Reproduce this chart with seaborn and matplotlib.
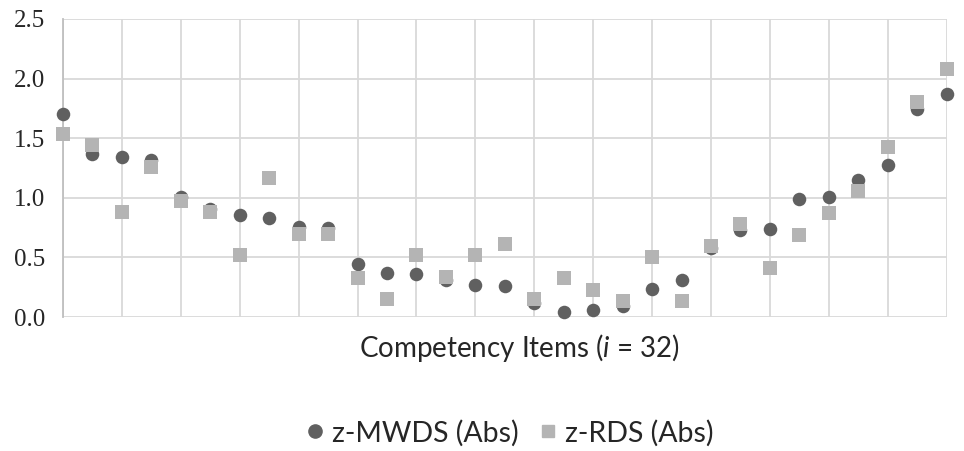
import numpy as np
import pandas as pd
import matplotlib
matplotlib.use("Agg")
import matplotlib.pyplot as plt
import seaborn as sns
from matplotlib.lines import Line2D

# Values (31 plotted items)
items = list(range(1, 32))
z_mwds = [1.70, 1.37, 1.345, 1.315, 1.005, 0.91, 0.86, 0.83, 0.755, 0.745,
          0.445, 0.37, 0.36, 0.31, 0.27, 0.26, 0.12, 0.04, 0.056, 0.09,
          0.237, 0.313, 0.58, 0.73, 0.736, 0.987, 1.01, 1.15, 1.273, 1.745, 1.873]
z_rds = [1.535, 1.44, 0.883, 1.256, 0.976, 0.883, 0.52, 1.163, 0.696, 0.696,
         0.33, 0.148, 0.517, 0.333, 0.517, 0.61, 0.148, 0.33, 0.226, 0.134,
         0.50, 0.132, 0.596, 0.78, 0.408, 0.688, 0.875, 1.06, 1.429, 1.80, 2.08]
y_ticks = [0.0, 0.5, 1.0, 1.5, 2.0, 2.5]

df = pd.DataFrame({"item": items, "z-MWDS (Abs)": z_mwds, "z-RDS (Abs)": z_rds})

sns.set_style("white")
plt.rcParams["font.family"] = ["Lato", "DejaVu Sans"]
plt.rcParams["mathtext.fontset"] = "custom"
plt.rcParams["mathtext.it"] = "Lato:italic"
plt.rcParams["mathtext.rm"] = "Lato"

dark = "#606060"
light = "#b4b4b4"
grid = "#d9d9d9"

fig = plt.figure(figsize=(9.64, 4.51), dpi=100)
ax = fig.add_axes([0.0654, 0.297, 0.9166, 0.661])

sns.scatterplot(data=df, x="item", y="z-MWDS (Abs)", ax=ax, color=dark,
                marker="o", s=95, linewidth=0, zorder=3, clip_on=False)
sns.scatterplot(data=df, x="item", y="z-RDS (Abs)", ax=ax, color=light,
                marker="s", s=105, linewidth=0, zorder=4, clip_on=False)

ax.set_xlim(1, 31)
ax.set_ylim(0, 2.5)
ax.set_xticks(range(1, 32, 2))
ax.set_xticklabels([])
ax.set_yticks(y_ticks)
ax.set_yticklabels([f"{v:.1f}" for v in y_ticks], family="Liberation Serif", fontsize=18)
ax.tick_params(axis="x", length=0)
ax.tick_params(axis="y", length=5, width=1.3, color=grid, pad=8)
ax.grid(True, color=grid, linewidth=1.3)
ax.set_axisbelow(True)
for side in ["top", "right", "bottom"]:
    ax.spines[side].set_visible(False)
ax.spines["left"].set_color("#bfbfbf")
ax.spines["left"].set_linewidth(1.3)

ax.set_xlabel(r"Competency Items ($i$ = 32)", fontsize=20)
ax.xaxis.set_label_coords(0.516, -0.05)
ax.set_ylabel("")

handles = [
    Line2D([], [], marker="o", linestyle="", color=dark, markersize=9.5, label="z-MWDS (Abs)"),
    Line2D([], [], marker="s", linestyle="", color=light, markersize=9, label="z-RDS (Abs)"),
]
fig.legend(handles=handles, loc="center", bbox_to_anchor=(0.529, 0.04), ncol=2,
           frameon=False, fontsize=20.5, handlelength=0.6, handletextpad=0.3,
           columnspacing=0.7)

fig.savefig("out.png", dpi=100)
